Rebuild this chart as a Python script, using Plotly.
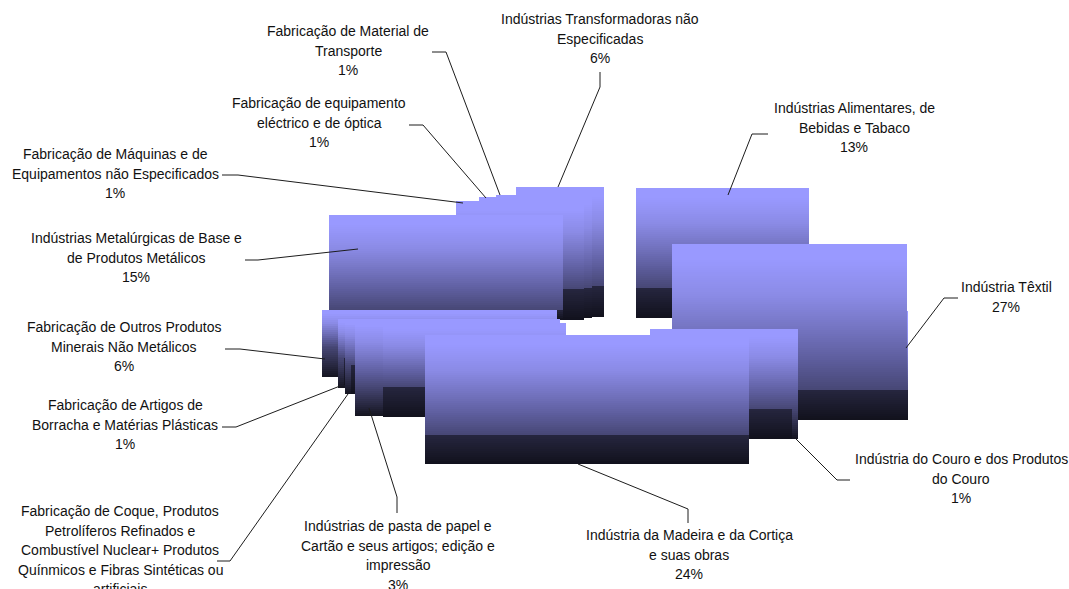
import plotly.graph_objects as go

categories = [
    "Indústrias Alimentares, de Bebidas e Tabaco", "Indústria Têxtil",
    "Indústria do Couro e dos Produtos do Couro", "Indústria da Madeira e da Cortiça e suas obras",
    "Indústrias de pasta de papel e Cartão e seus artigos; edição e impressão",
    "Fabricação de Coque, Produtos Petrolíferos Refinados e Combustível Nuclear+ Produtos Quínmicos e Fibras Sintéticas ou artificiais",
    "Fabricação de Artigos de Borracha e Matérias Plásticas",
    "Fabricação de Outros Produtos Minerais Não Metálicos",
    "Indústrias Metalúrgicas de Base e de Produtos Metálicos",
    "Fabricação de Máquinas e de Equipamentos não Especificados",
    "Fabricação de equipamento eléctrico e de óptica",
    "Fabricação de Material de Transporte",
    "Indústrias Transformadoras não Especificadas",
]
shares = [13, 27, 1, 24, 3, 1, 1, 6, 15, 1, 1, 1, 6]

label_lines = [
    ["Indústrias Alimentares, de", "Bebidas e Tabaco"],
    ["Indústria Têxtil"],
    ["Indústria do Couro e dos Produtos", "do Couro"],
    ["Indústria da Madeira e da Cortiça", "e suas obras"],
    ["Indústrias de pasta de papel e", "Cartão e seus artigos; edição e", "impressão"],
    ["Fabricação de Coque, Produtos", "Petrolíferos Refinados e", "Combustível Nuclear+ Produtos", "Quínmicos e Fibras Sintéticas ou", "artificiais"],
    ["Fabricação de Artigos de", "Borracha e Matérias Plásticas"],
    ["Fabricação de Outros Produtos", "Minerais Não Metálicos"],
    ["Indústrias Metalúrgicas de Base e", "de Produtos Metálicos"],
    ["Fabricação de Máquinas e de", "Equipamentos não Especificados"],
    ["Fabricação de equipamento", "eléctrico e de óptica"],
    ["Fabricação de Material de", "Transporte"],
    ["Indústrias Transformadoras não", "Especificadas"],
]
label_center_x = [854, 1006, 961, 689, 398, 120, 125, 124, 136, 115, 319, 348, 600]
label_first_y = [108, 287, 459, 535, 526, 511, 405, 327, 238, 154, 103, 31, 19]

# leader lines, one per category: x and y along the axes
leader_x = [
    [768, 752, 728], [958, 944, 906], [850, 837, 796], [688, 688, 578], [397, 397, 369],
    [217, 230, 348], [222, 236, 340], [225, 240, 325], [245, 258, 358], [222, 238, 463],
    [409, 423, 486], [432, 446, 500], [600, 600, 558],
]
leader_y = [
    [134, 134, 195], [298, 298, 348], [480, 480, 439], [523, 509, 464], [513, 497, 408],
    [561, 561, 394], [427, 427, 386], [349, 349, 359], [260, 260, 249], [175, 175, 203],
    [125, 125, 198], [52, 52, 195], [72, 87, 187],
]

# block extents, painted back to front
block_left = [516, 496, 479, 456, 636, 329, 322, 338, 344, 345, 351, 383, 355, 672, 672, 792, 650, 425]
block_right = [604, 592, 584, 584, 809, 563, 557, 560, 345, 560, 560, 566, 383, 908, 907, 798, 792, 749]
block_top = [187, 195, 197, 201, 188, 215, 310, 319, 358, 319, 365, 323, 319, 311, 244, 329, 329, 335]
block_split = [286, 288, 289, 289, 288, 310, 347, 358, 358, 365, 365, 387, 387, 390, 390, 409, 409, 435]
block_bottom = [317, 318, 320, 320, 318, 320, 377, 388, 385, 394, 394, 417, 416, 420, 420, 439, 439, 464]
block_soft = [False, False, False, False, False, False, True, True, False, True, False, False, True,
              False, False, True, False, False]

hard_gradient = [
    [0.00, "#9999ff"], [0.08, "#9999ff"], [0.28, "#8b8be6"], [0.45, "#7676c4"],
    [0.62, "#5f5fa0"], [0.80, "#474775"],
    [0.80, "#26263f"], [1.00, "#11111c"],
]
soft_gradient = hard_gradient[:6] + [[1.00, "#14141f"]]


def face_rows(top, split, bottom):
    edges, values = [top], []
    y = top
    while y < split:
        nxt = min(y + 2, split)
        values.append([0.8 * ((y + nxt) / 2 - top) / (split - top)])
        edges.append(nxt)
        y = nxt
    while y < bottom:
        nxt = min(y + 2, bottom)
        values.append([0.8001 + 0.1999 * ((y + nxt) / 2 - split) / (bottom - split)])
        edges.append(nxt)
        y = nxt
    return edges, values


fig = go.Figure()
for left, right, top, split, bottom, soft in zip(
        block_left, block_right, block_top, block_split, block_bottom, block_soft):
    edges, values = face_rows(top, split, bottom)
    fig.add_trace(go.Heatmap(
        x=[left, right], y=edges, z=values, zmin=0, zmax=1,
        colorscale=soft_gradient if soft else hard_gradient,
        showscale=False, hoverinfo="skip", zsmooth=False,
    ))

for lx, ly in zip(leader_x, leader_y):
    fig.add_trace(go.Scatter(
        x=lx, y=ly, mode="lines", line=dict(color="#1c1c1c", width=1),
        hoverinfo="skip", showlegend=False,
    ))

PAGE_BOTTOM = 589
for lines, share, cx, fy in zip(label_lines, shares, label_center_x, label_first_y):
    for k, text in enumerate(lines + [f"{share}%"]):
        y = fy + k * 19.7
        if y > PAGE_BOTTOM + 2:  # the reference's page ends before this line
            continue
        fig.add_annotation(
            x=cx, y=min(y, PAGE_BOTTOM - 0.1), text=text, showarrow=False,
            xanchor="center", yanchor="middle",
            font=dict(family="Liberation Sans", size=14, color="#111111"),
        )

fig.update_layout(
    width=1069, height=589, margin=dict(l=0, r=0, t=0, b=0),
    paper_bgcolor="white", plot_bgcolor="white", showlegend=False,
    xaxis=dict(range=[0, 1069], visible=False),
    yaxis=dict(range=[589, 0], visible=False),
)
fig.write_html("out.html", config={"displayModeBar": False},
               post_script="document.body.style.margin='0';")
